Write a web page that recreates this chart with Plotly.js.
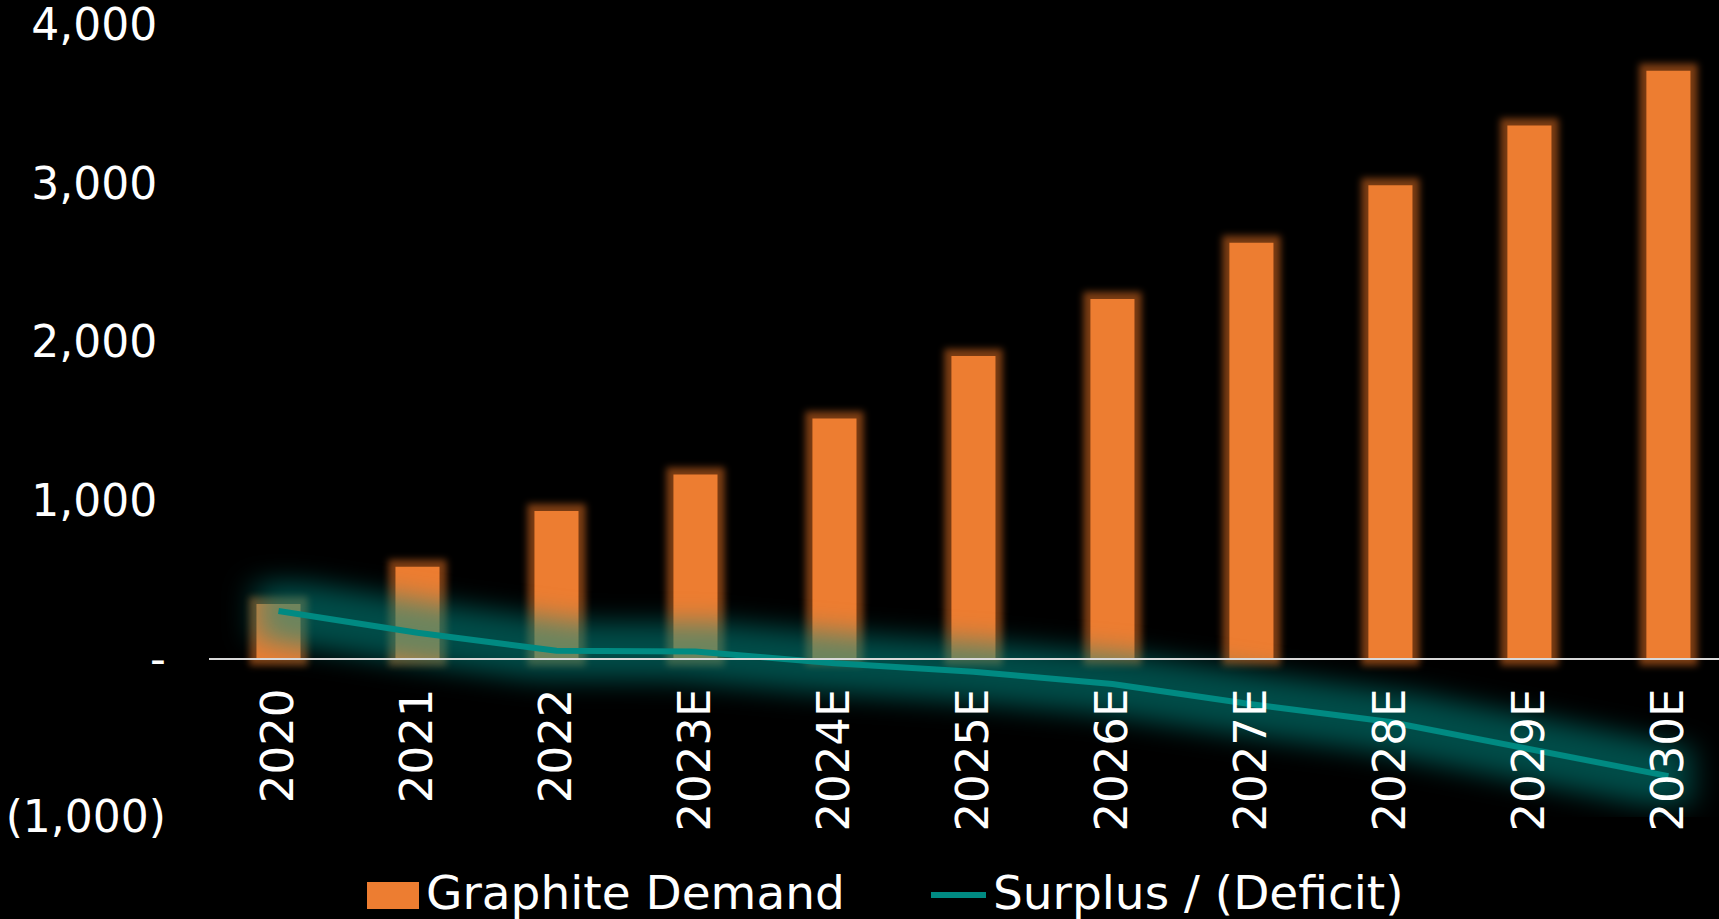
<!DOCTYPE html>
<html>
<head>
<meta charset="utf-8">
<script src="https://cdn.plot.ly/plotly-3.0.1.min.js"></script>
<style>
  html, body { margin: 0; padding: 0; background: #000; }
  #chart { width: 1719px; height: 919px; }
</style>
</head>
<body>
<svg width="0" height="0" style="position:absolute">
  <defs>
    <filter id="barGlow" filterUnits="userSpaceOnUse" x="-3000" y="-3000" width="8000" height="8000" color-interpolation-filters="sRGB">
      <feMorphology in="SourceAlpha" operator="dilate" radius="7" result="d"/>
      <feGaussianBlur in="d" stdDeviation="3.5" result="b"/>
      <feFlood flood-color="#C8621F" flood-opacity="0.62" result="f"/>
      <feComposite in="f" in2="b" operator="in" result="g"/>
      <feMerge><feMergeNode in="g"/><feMergeNode in="SourceGraphic"/></feMerge>
    </filter>
    <filter id="lineGlow" filterUnits="userSpaceOnUse" x="-3000" y="-3000" width="8000" height="8000" color-interpolation-filters="sRGB">
      <feMorphology in="SourceAlpha" operator="dilate" radius="22 26" result="d"/>
      <feGaussianBlur in="d" stdDeviation="16 13" result="b"/>
      <feFlood flood-color="#008A82" flood-opacity="0.55" result="f"/>
      <feComposite in="f" in2="b" operator="in" result="g"/>
      <feMerge><feMergeNode in="g"/><feMergeNode in="SourceGraphic"/></feMerge>
    </filter>
  </defs>
</svg>
<div id="chart"></div>
<script>
// ---- data ----
const years = ['2020', '2021', '2022', '2023E', '2024E', '2025E', '2026E', '2027E', '2028E', '2029E', '2030E'];
const graphiteDemand = [344, 580, 932, 1162, 1516, 1911, 2270, 2626, 2989, 3366, 3711];
const surplusDeficit = [300, 163, 50, 45, -30, -83, -160, -288, -400, -573, -742];
const yTickVals = [-1000, 0, 1000, 2000, 3000, 4000];
const yTickText = ['(1,000)', '-', '1,000\u2009', '2,000\u2009', '3,000\u2009', '4,000\u2009'];
const legendNames = ['Graphite Demand', 'Surplus / (Deficit)'];

// ---- style ----
const ORANGE = '#ED7D31';
const TEAL = '#008A82';
const FONT = 'DejaVu Sans';
const W = 1719, H = 919, ML = 209, MR = 0, MT = 25, MB = 102;
const pw = W - ML - MR, ph = H - MT - MB;
const px2x = p => (p - ML) / pw;
const py2y = p => (H - MB - p) / ph;

const traces = [
  {
    type: 'bar',
    name: legendNames[0],
    x: years,
    y: graphiteDemand,
    width: 0.317,
    marker: { color: ORANGE, line: { width: 0 } },
    hoverinfo: 'x+y'
  },
  {
    type: 'scatter',
    mode: 'lines',
    name: legendNames[1],
    x: years,
    y: surplusDeficit,
    line: { color: TEAL, width: 6 },
    hoverinfo: 'x+y'
  }
];

const layout = {
  width: W,
  height: H,
  paper_bgcolor: '#000',
  plot_bgcolor: '#000',
  margin: { l: ML, r: MR, t: MT, b: MB, pad: 0 },
  showlegend: false,
  font: { family: FONT, color: '#fff' },
  xaxis: {
    type: 'category',
    range: [-0.5, 10.364],
    anchor: 'free',
    position: 0.2,
    showline: true,
    linecolor: '#d9d9d9',
    linewidth: 2,
    showgrid: false,
    zeroline: false,
    ticks: '',
    tickangle: -90,
    ticklabelstandoff: 11,
    ticklabeloverflow: 'allow',
    tickfont: { family: FONT, size: 45, color: '#fff' }
  },
  yaxis: {
    range: [-1000, 4000],
    tickvals: yTickVals,
    ticktext: yTickText,
    showgrid: false,
    zeroline: false,
    showline: false,
    ticks: '',
    ticklabelstandoff: 42,
    ticklabeloverflow: 'allow',
    tickfont: { family: FONT, size: 44, color: '#fff' }
  },
  shapes: [
    {
      type: 'rect', xref: 'paper', yref: 'paper',
      x0: px2x(367), x1: px2x(419), y0: py2y(909), y1: py2y(882),
      fillcolor: ORANGE, line: { width: 0 }
    },
    {
      type: 'line', xref: 'paper', yref: 'paper',
      x0: px2x(931), x1: px2x(986), y0: py2y(895), y1: py2y(895),
      line: { color: TEAL, width: 6 }
    }
  ],
  annotations: [
    {
      xref: 'paper', yref: 'paper', x: px2x(424), y: py2y(892),
      xanchor: 'left', yanchor: 'middle', showarrow: false,
      text: legendNames[0], font: { family: FONT, size: 47, color: '#fff' }
    },
    {
      xref: 'paper', yref: 'paper', x: px2x(991), y: py2y(892),
      xanchor: 'left', yanchor: 'middle', showarrow: false,
      text: legendNames[1], font: { family: FONT, size: 47, color: '#fff' }
    }
  ]
};

Plotly.newPlot('chart', traces, layout, { displayModeBar: false, staticPlot: true }).then(gd => {
  gd.querySelectorAll('.barlayer .trace').forEach(g => g.setAttribute('filter', 'url(#barGlow)'));
  gd.querySelectorAll('.scatterlayer .trace').forEach(g => g.setAttribute('filter', 'url(#lineGlow)'));
});
</script>
</body>
</html>
